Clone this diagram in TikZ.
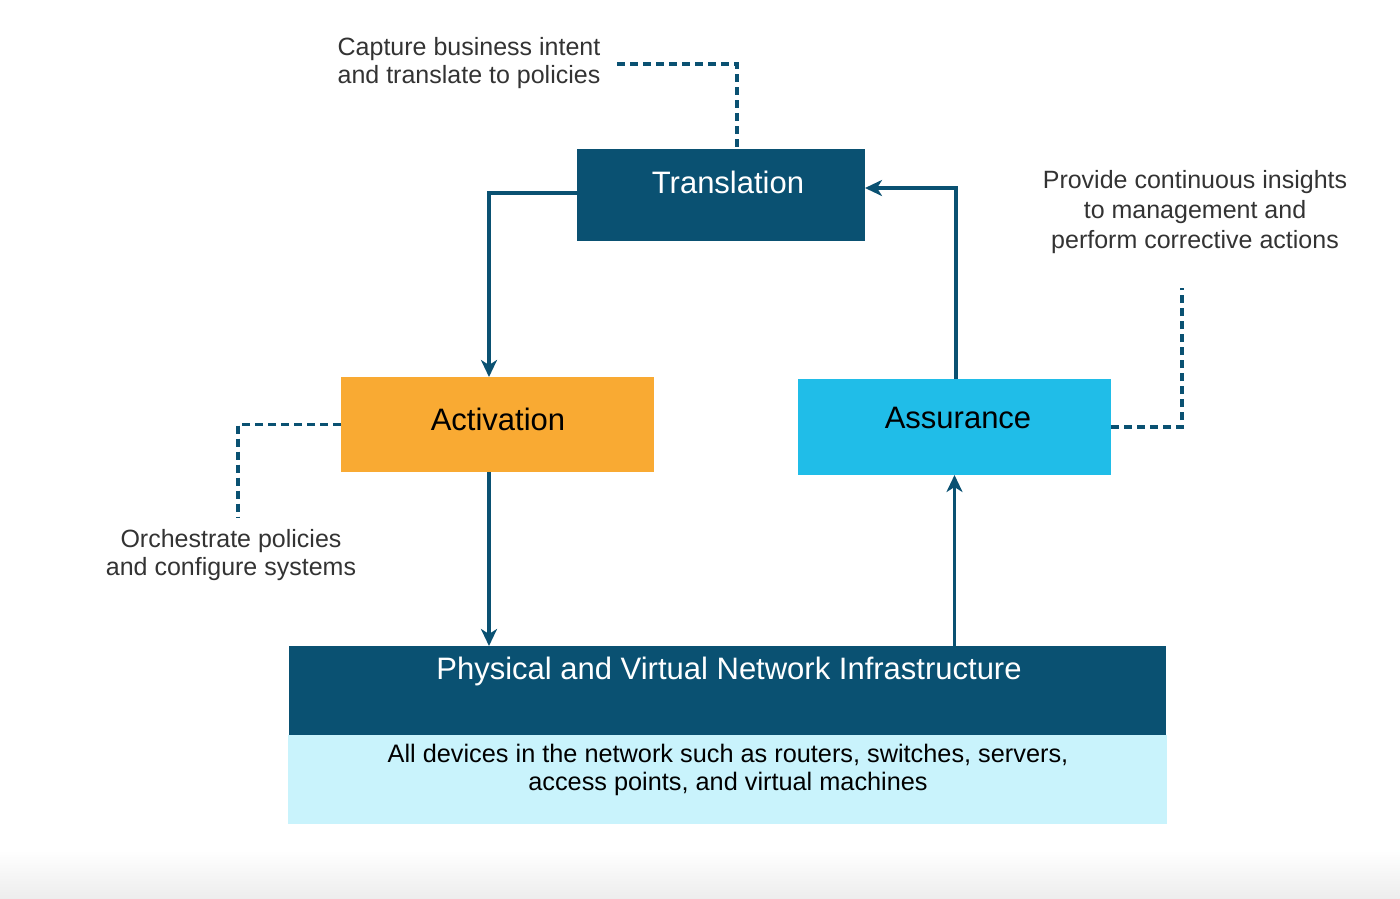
\documentclass[tikz,border=0pt]{standalone}
\usepackage{fontspec}
\setmainfont{Liberation Sans}
\usetikzlibrary{arrows.meta}
\definecolor{ciscoblue}{RGB}{10,81,114}
\definecolor{actorange}{RGB}{249,170,51}
\definecolor{asscyan}{RGB}{32,189,232}
\definecolor{infralight}{RGB}{201,243,252}
\definecolor{notegray}{RGB}{51,51,51}
\begin{document}
\begin{tikzpicture}[x=1pt,y=-1pt,>={Stealth[length=17pt,width=16pt,inset=5pt]},
  box/.style={rectangle,inner sep=0pt,outer sep=0pt},
  flow/.style={->,draw=ciscoblue,line width=3.5pt},
  note/.style={draw=ciscoblue,line width=3.5pt,dash pattern=on 8pt off 5pt},
  boxlabel/.style={anchor=base,font=\fontsize{31}{37}\selectfont},
  notetext/.style={text=notegray,align=center,font=\fontsize{25}{28}\selectfont}]
\useasboundingbox (0,0) rectangle (1400,898);
\shade[top color=white,bottom color=black!7] (0,850) rectangle (1400,898);
% boxes
\node[box,fill=ciscoblue,minimum width=288,minimum height=92] (trans) at (721,195) {};
\node[box,fill=actorange,minimum width=313,minimum height=95] (act) at (497.5,424.5) {};
\node[box,fill=asscyan,minimum width=313,minimum height=96] (ass) at (954.5,427) {};
\node[box,fill=ciscoblue,minimum width=877,minimum height=89] (infra) at (727.5,690.5) {};
\node[box,fill=infralight,minimum width=879,minimum height=89,anchor=north] (dev) at (infra.south) {};
\node[boxlabel,text=white] (translabel) at (728,193) {Translation};
\node[boxlabel] (actlabel) at (498,430) {Activation};
\node[boxlabel] (asslabel) at (958,428) {Assurance};
\node[boxlabel,text=white] (infralabel) at (729,679) {Physical and Virtual Network Infrastructure};
\node[align=center,font=\fontsize{25.3}{28}\selectfont] (devlabel) at (728,770)
  {All devices in the network such as routers, switches, servers,\\access points, and virtual machines};
% notes
\node[notetext] (capnote) at (469,63) {Capture business intent\\and translate to policies};
\node[notetext] (orchnote) at (231,555) {Orchestrate policies\\and configure systems};
\node[notetext,font=\fontsize{25}{30}\selectfont] (insnote) at (1195,212) {Provide continuous insights\\to management and\\perform corrective actions};
\coordinate (capend) at (617,64);
\coordinate (orchend) at (238,517);
\coordinate (insend) at (1182,288);
% flow
\draw[flow] ([yshift=2pt]trans.west) -| ([xshift=-8.5pt]act.north);
\draw[flow] ([xshift=-8.5pt]act.south) -- ([xshift=-8.5pt]act.south |- infra.north);
\draw[flow] (ass.south |- infra.north) -- (ass.south);
\draw[flow] ([xshift=1.5pt]ass.north) |- ([yshift=7pt]trans.east);
% dashed
\draw[note] (capend) -| ([xshift=16pt]trans.north);
\draw[note] (act.west) -| (orchend);
\draw[note] (ass.east) -| (insend);
\end{tikzpicture}
\end{document}
